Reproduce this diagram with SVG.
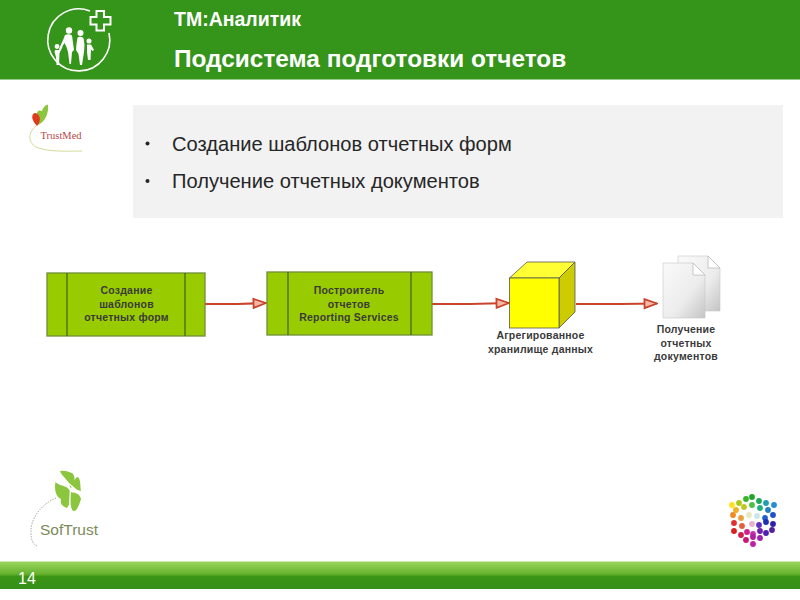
<svg xmlns="http://www.w3.org/2000/svg" width="800" height="600" viewBox="0 0 800 600">
<style>
text{font-family:"Liberation Sans",Arial,sans-serif}
.h{font-weight:bold;fill:#fff}
.b{font-size:20.100px;fill:#262626}
.n{font-size:10.500px;font-weight:bold;fill:#3a3a3a;text-anchor:middle;letter-spacing:.22px}
.box{fill:#99cc00;stroke:#6f8f3a;stroke-width:1.300}
.div{stroke:#3f5f1a;stroke-width:1.200;fill:none}
.c{fill:none;stroke:#c8452c;stroke-width:2.200;marker-end:url(#arr)}
.doc{fill:url(#docg);stroke:#c8c8c8;stroke-width:.6}
.fold{fill:#fff;stroke:#aaa;stroke-width:.6}
.w{fill:#fff}
.cut{fill:none;stroke:#fff;stroke-width:1.200}
.lf{fill:#8cc63f}
</style>
<defs>
<marker id="arr" markerUnits="userSpaceOnUse" markerWidth="15" markerHeight="12" refX="14" refY="6" orient="auto">
<path d="M1.500 1.500L14 6L1.500 10.500Z" fill="#f4b8a8" stroke="#c8452c" stroke-width="1.800"/>
</marker>
<linearGradient id="foot" x1="0" y1="0" x2="0" y2="1">
<stop offset="0" stop-color="#9ad65f"/><stop offset=".45" stop-color="#66b32e"/><stop offset=".55" stop-color="#3a9414"/><stop offset="1" stop-color="#35901a"/>
</linearGradient>
<linearGradient id="docg" x1="0" y1="0" x2="1" y2="1">
<stop offset="0" stop-color="#fafafa"/><stop offset=".6" stop-color="#ececec"/><stop offset="1" stop-color="#c4c4c4"/>
</linearGradient>
</defs>

<rect x="0" y="0" width="800" height="79.500" fill="#35941a"/>
<g id="family-logo">
<path d="M90 11A31 31 0 1 0 109 33" fill="none" stroke="#fff" stroke-width="1.600"/>
<path d="M96.500 11H104V17H110.500V24.500H104V30.500H96.500V24.500H90.500V17H96.500Z" fill="none" stroke="#fff" stroke-width="2"/>
<g class="w">
<circle cx="69" cy="30.500" r="3.200"/>
<path d="M65 35Q68.500 33.500 72 35.500L74 50L72 52L71 64H69.500L68 52L66.500 47L64.500 43L60 50L59 49L63.500 39Z"/>
<circle cx="80.500" cy="33" r="3"/>
<path d="M77.500 37.500Q80.500 36 83.500 38L84.500 45L84 52L82 65H80L78.500 54L76 50L76.500 44Z"/>
<circle cx="89" cy="41" r="2.500"/>
<path d="M87 44.500H91L94 50L92.500 51L91 49.500L90.500 60H88L87 52Z"/>
<circle cx="57" cy="46.500" r="2.400"/>
<path d="M55 50H59L62 46L62.500 47L59.500 53L59 65H56.500L56 57L54.500 52Z"/>
</g>
</g>
<g id="title">
<text class="h" x="174" y="26" font-size="19.500">ТМ:Аналитик</text>
<text class="h" x="174" y="67" font-size="24.400">Подсистема подготовки отчетов</text>
</g>

<g id="trustmed-logo">
<path d="M36 126C27 133 27 146 42 149C55 152 70 151 82 151" fill="none" stroke="#cddc9a" stroke-width="1"/>
<path d="M38 125C35 117 36 108 42 111C43 107 47 104 48 105C49 113 45 122 38 125Z" fill="#8cc63f"/>
<path d="M37 126C31 120 31 114 35 113C40 114 42 120 37 126Z" fill="#e03a1f"/>
<text x="40.500" y="138.500" font-size="10.500" fill="#b5474a" style="font-family:'Liberation Serif',serif">TrustMed</text>
</g>

<rect x="133" y="105" width="650" height="113" fill="#f2f2f2"/>
<g id="bullets">
<circle cx="147.500" cy="143.500" r="2" fill="#262626"/>
<text class="b" x="172" y="150.500">Создание шаблонов отчетных форм</text>
<circle cx="147.500" cy="181" r="2" fill="#262626"/>
<text class="b" x="172" y="188">Получение отчетных документов</text>
</g>

<g id="connectors">
<path class="c" d="M205 304H237L266 303"/>
<path class="c" d="M432 304H470L509 303"/>
<path class="c" d="M576 304H620L657 303.500"/>
</g>

<g id="node-templates">
<rect class="box" x="47" y="273" width="158" height="63"/>
<path class="div" d="M67 273V336M185 273V336"/>
<text class="n" x="126.500" y="294">Создание</text>
<text class="n" x="126.500" y="308">шаблонов</text>
<text class="n" x="126.500" y="321">отчетных форм</text>
</g>
<g id="node-builder">
<rect class="box" x="267" y="272" width="165" height="63"/>
<path class="div" d="M288 272V335M411 272V335"/>
<text class="n" x="349" y="294">Построитель</text>
<text class="n" x="349" y="308">отчетов</text>
<text class="n" x="349" y="321">Reporting Services</text>
</g>
<g id="node-storage">
<path d="M509.500 278L527 262H575L559 278Z" fill="#ffff33" stroke="#555" stroke-width=".8"/>
<path d="M559 278L575 262V312L559 328Z" fill="#cccc00" stroke="#555" stroke-width=".8"/>
<rect x="509.500" y="278" width="49.500" height="50" fill="#ffff00" stroke="#555" stroke-width=".8"/>
<text class="n" x="540.500" y="339">Агрегированное</text>
<text class="n" x="540.500" y="353">хранилище данных</text>
</g>
<g id="node-documents">
<path class="doc" d="M678 256H708L720 268V311H678Z"/>
<path class="fold" d="M708 256L720 268H708Z"/>
<path class="doc" d="M663 263H693L705 275V318H663Z"/>
<path class="fold" d="M693 263L705 275H693Z"/>
<text class="n" x="686" y="333">Получение</text>
<text class="n" x="686" y="347">отчетных</text>
<text class="n" x="686" y="360">документов</text>
</g>

<g id="softrust-logo">
<path d="M56 498C42 504 30 518 31 533C31 540 33 544 37 546" fill="none" stroke="#aaa" stroke-width="1" stroke-dasharray="1.500 1.200"/>
<path class="lf" d="M70 491C66 484 60 487 55.500 482C54 490 56 497 61 499C60 504 62 506 67 508C70 504 72 498 70 491Z"/>
<path class="lf" d="M70 487C70 481 62 477 60 471C66 470 70 473 72 473C76 476 75 483 71 488Z"/>
<path class="lf" d="M72 485C74 480 76 477 78 477C81 480 80 486 81 491L74 489Z"/>
<path class="lf" d="M71 492C76 493 80 494 81 499C79 505 77 512 73 511C70 507 70 498 71 492Z"/>
<path class="cut" d="M61 477L81 494M70.500 489L69 512"/>
<text x="40" y="535" font-size="15.500" fill="#7c8a5a">SofTrust</text>
</g>

<g id="color-cube">
<circle cx="732" cy="505" r="2.900" fill="#ffe11a"/><circle cx="739" cy="503" r="2.900" fill="#a8c81a"/><circle cx="746" cy="499" r="2.900" fill="#36b52a"/><circle cx="752" cy="497" r="2.900" fill="#1fa52a"/><circle cx="759" cy="501" r="2.900" fill="#1fa85a"/><circle cx="766" cy="503" r="2.900" fill="#1f9fb0"/><circle cx="774" cy="505" r="2.900" fill="#2090d0"/>
<circle cx="736" cy="510" r="2.900" fill="#f0b020"/><circle cx="744" cy="507" r="2.900" fill="#c0c820"/><circle cx="752" cy="505" r="2.900" fill="#50c040"/><circle cx="760" cy="508" r="2.900" fill="#20b080"/><circle cx="768" cy="510" r="2.900" fill="#2080c0"/>
<circle cx="733" cy="515" r="2.900" fill="#f08a20"/><circle cx="741" cy="518" r="2.900" fill="#e8a040"/><circle cx="749" cy="515" r="2.900" fill="#e8e8c0"/><circle cx="757" cy="516" r="2.900" fill="#c8e8e8"/><circle cx="765" cy="518" r="2.900" fill="#2060c8"/><circle cx="773" cy="515" r="2.900" fill="#2050c8"/>
<circle cx="734" cy="523" r="2.900" fill="#e03030"/><circle cx="742" cy="526" r="2.900" fill="#e06040"/><circle cx="752" cy="524" r="2.900" fill="#e8b0d0"/><circle cx="759" cy="525" r="2.900" fill="#6030c0"/><circle cx="766" cy="522" r="2.900" fill="#2030b0"/><circle cx="773" cy="524" r="2.900" fill="#3020b0"/>
<circle cx="734" cy="531" r="2.900" fill="#d82020"/><circle cx="741" cy="535" r="2.900" fill="#d02050"/><circle cx="747" cy="532" r="2.900" fill="#d02090"/><circle cx="753" cy="534" r="2.900" fill="#c030b0"/><circle cx="760" cy="531" r="2.900" fill="#7020b0"/><circle cx="766" cy="533" r="2.900" fill="#5020b0"/><circle cx="772" cy="530" r="2.900" fill="#5020a0"/>
<circle cx="746" cy="540" r="2.900" fill="#c81870"/><circle cx="753" cy="544" r="2.900" fill="#c020a0"/><circle cx="760" cy="538" r="2.900" fill="#a020b0"/><circle cx="753" cy="537" r="2.900" fill="#b020a0"/>
</g>

<g id="footer">
<rect x="0" y="561.500" width="800" height="27.500" fill="url(#foot)"/>
<text x="18" y="584" font-size="16" fill="#fff">14</text>
</g>
</svg>
